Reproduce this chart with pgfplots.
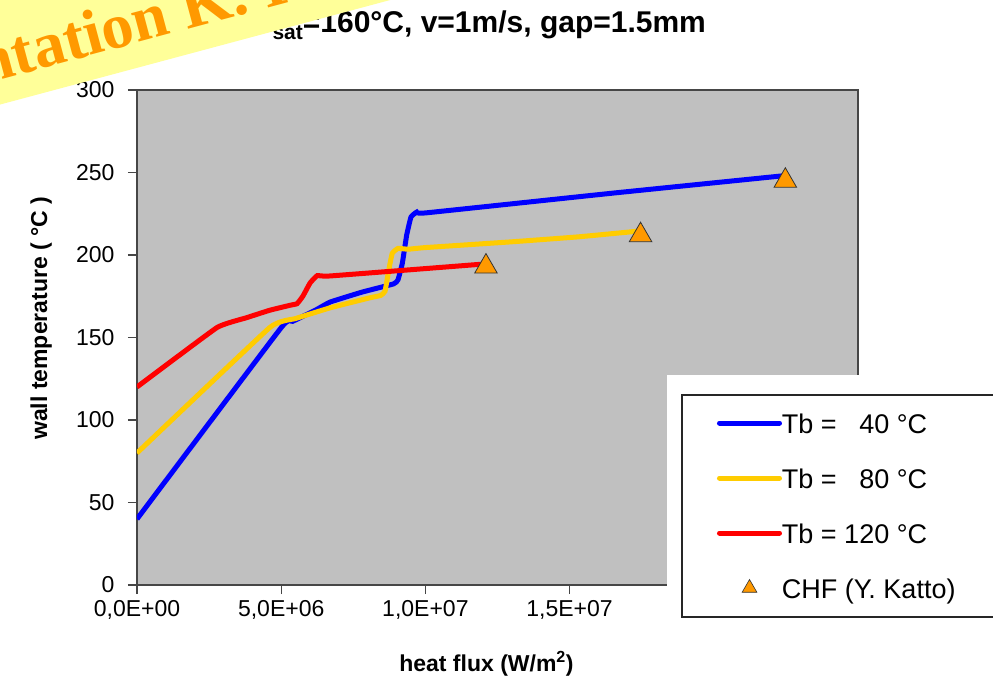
\documentclass[border=0pt]{standalone}
\usepackage{pgfplots}
\pgfplotsset{compat=1.18}
\usepackage{fontspec}
\setmainfont{Liberation Sans}
\newfontfamily\bannerfont{Liberation Serif}
\definecolor{cblue}{RGB}{0,0,255}
\definecolor{cyellow}{RGB}{255,204,0}
\definecolor{cred}{RGB}{255,0,0}
\definecolor{corange}{RGB}{255,153,0}
\definecolor{plotgray}{RGB}{192,192,192}
\definecolor{axgray}{RGB}{70,70,70}
\definecolor{bannery}{RGB}{255,255,153}
\begin{document}
\begin{tikzpicture}
\path[use as bounding box] (0pt,0pt) rectangle (993pt,686pt);
\begin{axis}[
  at={(137pt,101pt)}, anchor=south west,
  scale only axis, width=721pt, height=495pt,
  xmin=0, xmax=2.5e7, ymin=0, ymax=300,
  axis background/.style={fill=plotgray},
  axis line style={draw=axgray, line width=1.2pt},
  tick style={draw=axgray, line width=1.2pt},
  tick align=outside, major tick length=9pt,
  xtick={0,5e6,1e7,1.5e7},
  xticklabels={{0,0E+00},{5,0E+06},{1,0E+07},{1,5E+07}},
  ytick={0,50,100,150,200,250,300},
  yticklabels={0,50,100,150,200,250,300},
  scaled x ticks=false, scaled y ticks=false,
  xtick pos=bottom, ytick pos=left,
  ticklabel style={font=\fontsize{23}{27}\selectfont},
  xticklabel style={yshift=-3pt},
  yticklabel style={xshift=-10pt},
  xlabel={\bfseries heat flux (W/m\textsuperscript{2})},
  ylabel={\bfseries wall temperature ( °C )},
  every axis x label/.style={at={(axis description cs:0.4847,-0.1596)}, anchor=center},
  every axis y label/.style={at={(axis description cs:-0.133,0.539)}, rotate=90, anchor=center},
  label style={font=\fontsize{23}{27}\selectfont},
]
\addplot[cblue, line width=5pt, smooth, tension=0.2] coordinates {
(0,40) (5.0e6,156) (5.4e6,159.8) (6.2e6,166.7) (6.7e6,171.5) (7.8e6,177.5) (8.9e6,182.5) (9.05e6,185) (9.2e6,195) (9.35e6,212) (9.5e6,223) (9.7e6,226) (1.0e7,225.5) (1.65e7,237.5) (2.24e7,248)};
\addplot[cyellow, line width=5pt, smooth, tension=0.2] coordinates {
(0,80) (4.6e6,156) (5.5e6,161.5) (6.7e6,168) (8.06e6,174) (8.45e6,175.5) (8.6e6,178) (8.72e6,190) (8.85e6,201) (9.05e6,204) (9.4e6,203.5) (1.0e7,204.5) (1.3e7,208) (1.53e7,211) (1.74e7,214.5)};
\addplot[cred, line width=5pt, smooth, tension=0.2] coordinates {
(0,120) (2.77e6,156) (3.8e6,162) (4.6e6,166.5) (5.3e6,169.5) (5.55e6,170.5) (5.75e6,175) (6.0e6,183) (6.25e6,187.5) (6.7e6,187.3) (1.2e7,194.5)};
\addplot[only marks, mark=triangle*, mark size=13pt, mark options={fill=corange, draw=black!80, line width=0.8pt}] coordinates {
(1.21e7,193) (1.746e7,212) (2.248e7,245)};
\end{axis}
\fill[white] (667pt,311pt) rectangle (1000pt,-10pt);
\draw[black!85, line width=1.3pt] (682pt,291pt) rectangle (1010pt,69pt);
\begin{axis}[
  at={(137pt,101pt)}, anchor=south west,
  scale only axis, width=721pt, height=495pt,
  hide axis, xmin=0, xmax=1, ymin=0, ymax=1,
  legend cell align=left,
  legend style={at={(0.8044,0.3515)}, anchor=north west, draw=none, fill=none,
    inner sep=0pt, outer sep=0pt, font=\fontsize{27}{31}\selectfont,
    row sep=31pt, column sep=-2pt,
    nodes={inner sep=2pt, text height=20pt, text depth=0pt}},
]
\addlegendimage{legend image code/.code={\draw[cblue, line width=5pt, line cap=round] (0pt,0pt) -- (60pt,0pt);}}
\addlegendentry{Tb = \phantom{1}40 °C}
\addlegendimage{legend image code/.code={\draw[cyellow, line width=5pt, line cap=round] (0pt,0pt) -- (60pt,0pt);}}
\addlegendentry{Tb = \phantom{1}80 °C}
\addlegendimage{legend image code/.code={\draw[cred, line width=5pt, line cap=round] (0pt,0pt) -- (60pt,0pt);}}
\addlegendentry{Tb = 120 °C}
\addlegendimage{only marks, mark=triangle*, mark size=8.5pt, mark options={fill=corange, draw=black!80, line width=0.6pt}, legend image post style={xshift=21.5pt}}
\addlegendentry{CHF (Y. Katto)}
\end{axis}
\node[anchor=base west, inner sep=0pt, font=\fontsize{30}{34}\selectfont\bfseries] at (254pt,653pt) {T\raisebox{-7pt}{\fontsize{21}{21}\selectfont sat}=160°C, v=1m/s, gap=1.5mm};
\begin{scope}[shift={(-160pt,563.4pt)}, rotate=15]
\fill[bannery] (-100pt,-24pt) rectangle (1400pt,120pt);
\node[transform shape, anchor=base west, inner sep=0pt, text=corange, font=\fontsize{64}{70}\selectfont\bannerfont\bfseries] at (0pt,0pt) {Presentation K. I};
\end{scope}
\end{tikzpicture}
\end{document}
